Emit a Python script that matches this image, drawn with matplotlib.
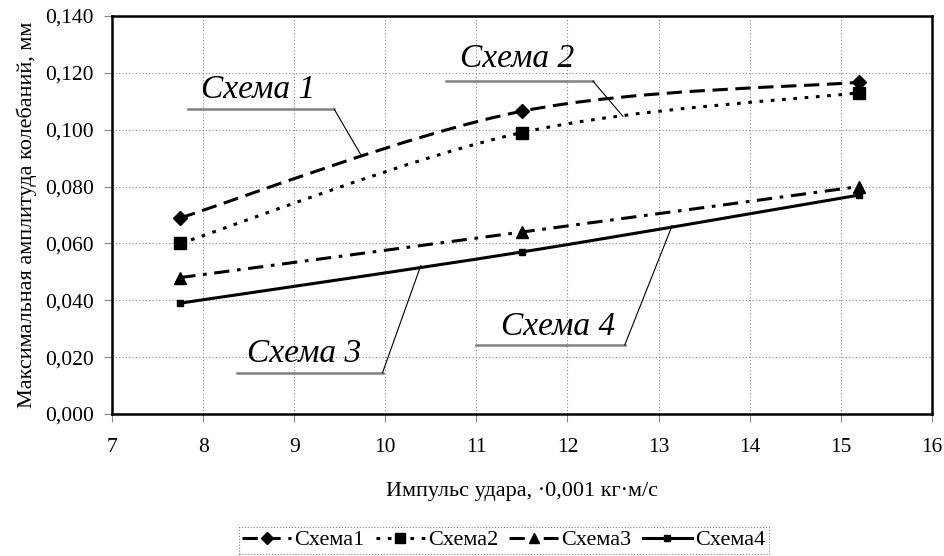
import numpy as np
import matplotlib
matplotlib.use("Agg")
import matplotlib.pyplot as plt
from matplotlib.path import Path
from matplotlib.patches import PathPatch
from matplotlib.ticker import FuncFormatter
from matplotlib.lines import Line2D

plt.rcParams['font.family'] = ['Liberation Serif', 'DejaVu Serif']

# data
impulse = [7.75, 11.5, 15.2]
scheme1 = [0.069, 0.1065, 0.1167]
scheme2 = [0.060, 0.099, 0.113]
scheme3 = [0.048, 0.064, 0.080]
scheme4 = [0.039, 0.057, 0.077]
names = ['Схема1', 'Схема2', 'Схема3', 'Схема4']


def smooth_path(xs, ys):
    # Excel-like smoothed line: cubic bezier segments (Catmull-Rom control points)
    pts = np.column_stack([xs, ys])
    n = len(pts)
    verts = [pts[0]]
    codes = [Path.MOVETO]
    for i in range(n - 1):
        p0 = pts[max(i - 1, 0)]
        p1 = pts[i]
        p2 = pts[i + 1]
        p3 = pts[min(i + 2, n - 1)]
        c1 = p1 + (p2 - p0) / 6.0
        c2 = p2 - (p3 - p1) / 6.0
        verts += [c1, c2, p2]
        codes += [Path.CURVE4] * 3
    return Path(verts, codes)


fig = plt.figure(figsize=(9.45, 5.56), dpi=100)
ax = fig.add_axes([0.1185, 0.2554, 0.8675, 0.7158])

styles = [
    dict(ls=(0, (5, 2.5)), marker='D', ms=7),
    dict(ls=(0, (1.2, 2.5)), marker='s', ms=8),
    dict(ls=(0, (5, 2.5, 1.2, 2.5)), marker='^', ms=8),
    dict(ls='-', marker='s', ms=5),
]
series = [scheme1, scheme2, scheme3, scheme4]
handles = []
for ys, st, nm in zip(series, styles, names):
    patch = PathPatch(smooth_path(impulse, ys), fill=False, edgecolor='black',
                      lw=2.2, linestyle=st['ls'], zorder=3)
    ax.add_patch(patch)
    ax.plot(impulse, ys, ls='none', marker=st['marker'], ms=st['ms'],
            color='black', zorder=4)
    handles.append(Line2D([], [], color='black', lw=2.2, ls=st['ls'],
                          marker=st['marker'], ms=st['ms'] - 1))

ax.set_xlim(7, 16)
ax.set_ylim(0, 0.140)
ax.set_xticks(range(7, 17))
ax.set_yticks(np.arange(0, 0.1401, 0.02))
ax.yaxis.set_major_formatter(FuncFormatter(lambda v, p: f"{v:.3f}".replace('.', ',')))
ax.grid(True, color='#888888', ls=(0, (1, 2)), lw=0.8)
ax.tick_params(direction='out', length=6, color='#888888', labelsize=15.5)
ax.tick_params(axis='x', pad=11)
ax.tick_params(axis='y', pad=7)
for s in ax.spines.values():
    s.set_linewidth(1.8)

ax.set_xlabel('Импульс удара, ·0,001 кг·м/с', fontsize=16, labelpad=18)
ax.set_ylabel('Максимальная амплитуда колебаний, мм', fontsize=16, labelpad=6)

# callouts: text, underline (x0, x1, y), leader end point
callouts = [
    ('Схема 1', (8.6, 0.1140), (7.84, 9.44, 0.1072), (9.73, 0.0913)),
    ('Схема 2', (11.45, 0.1249), (10.67, 12.28, 0.1171), (12.61, 0.1047)),
    ('Схема 3', (9.11, 0.0212), (8.37, 9.97, 0.0145), (10.39, 0.0522)),
    ('Схема 4', (11.9, 0.0307), (11.0, 12.63, 0.0243), (13.15, 0.0663)),
]
for txt, (tx, ty), (u0, u1, uy), (ex, ey) in callouts:
    ax.text(tx, ty, txt, fontsize=24, style='italic', ha='center', va='center', zorder=5)
    ax.plot([u0, u1], [uy, uy], color='#808080', lw=1.8, zorder=5)
    ax.plot([u1, ex], [uy, ey], color='black', lw=0.8, zorder=5)

leg = fig.legend(handles, names, loc='lower center', bbox_to_anchor=(0.533, 0.0),
                 ncol=4, fontsize=16, frameon=True, fancybox=False,
                 handlelength=2.2, columnspacing=0.5, handletextpad=0.15,
                 borderpad=0.15, borderaxespad=0.1)
leg.get_frame().set_edgecolor('#666666')
leg.get_frame().set_linestyle(':')
leg.get_frame().set_linewidth(0.8)

fig.savefig('out.png', dpi=100)
